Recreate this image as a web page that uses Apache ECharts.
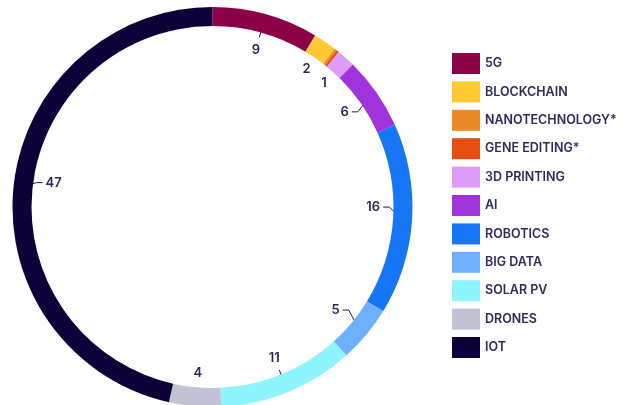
<!DOCTYPE html>
<html><head><meta charset="utf-8">
<script src="https://cdn.jsdelivr.net/npm/echarts@6/dist/echarts.min.js"></script>
<style>html,body{margin:0;padding:0;background:#fff}#c{width:632px;height:405px}</style>
</head><body><div id="c"></div>
<script>
const categories = ['5G','BLOCKCHAIN','NANOTECHNOLOGY*','GENE EDITING*','3D PRINTING','AI','ROBOTICS','BIG DATA','SOLAR PV','DRONES','IOT'];
const values = [8.6, 1.9, 0.2, 0.2, 1.5, 5.9, 15.5, 4.6, 11.0, 4.2, 46.6];
const labels = ['9','2','','','1','6','16','5','11','4','47'];
const colors = ['#8b0046','#ffc934','#e88a28','#e34f12','#de9cf8','#a034dc','#1776f4','#6eb0ff','#8ef4fd','#c2c2d6','#0d0038'];

const chart = echarts.init(document.getElementById('c'), null, {renderer:'canvas'});
const CX = 212.5, CY = 207, R_IN = 181, R_OUT = 200;
const total = values.reduce((a,b)=>a+b,0);
const midAngle = i => { let s=0; for (let k=0;k<i;k++) s+=values[k]; return (s+values[i]/2)/total*2*Math.PI; };
const pt = (a,r) => [CX + r*Math.sin(a), CY - r*Math.cos(a)];
const noLeader = new Set(['BLOCKCHAIN','3D PRINTING','DRONES']);
const nudge = {'AI':6,'ROBOTICS':-11,'BIG DATA':-10,'IOT':-5};

const option = {
  animation:false,
  legend:{orient:'vertical', left:452, top:53, padding:0, itemWidth:28, itemHeight:21, itemGap:7.4, icon:'rect', selectedMode:false,
    textStyle:{fontFamily:'Inter', fontSize:12.5, fontWeight:600, color:'#2e2b5c'}, data:categories},
  series:[{
    type:'pie', center:[CX,CY], radius:[R_IN,R_OUT], startAngle:90, clockwise:true, avoidLabelOverlap:false, silent:true,
    label:{show:true, position:'outside', formatter:p=>labels[p.dataIndex], fontFamily:'Inter', fontSize:13, fontWeight:600, color:'#2b2856'},
    labelLine:{show:true, length:10, length2:6, smooth:false, lineStyle:{color:'#1e1a4a', width:1}},
    data: categories.map((n,i)=>({name:n, value:values[i], itemStyle:{color:colors[i]},
      label:{show: labels[i]!==''}, labelLine:{show: labels[i]!=='' && !noLeader.has(n)}})),
    labelLayout: function(p){
      const i = p.dataIndex, name = categories[i], a = midAngle(i), s = Math.sin(a);
      if (noLeader.has(name)) { const l = pt(a,167); return {x:l[0], y:l[1], align:'center', verticalAlign:'middle'}; }
      if (Math.abs(s) < 0.6) {
        const p0 = pt(a,190), p1 = pt(a,176), l = pt(a,163);
        return {x:l[0], y:l[1], align:'center', verticalAlign:'middle', labelLinePoints:[p0,p1,p1]};
      }
      const dy = nudge[name]||0;
      const p0 = pt(a,190), p1 = pt(a,177); p1[1] += dy;
      const dir = s>0 ? -1 : 1;
      const p2 = [p1[0]+dir*6, p1[1]];
      return {x:p2[0]+dir*3, y:p2[1], align: s>0?'right':'left', verticalAlign:'middle', labelLinePoints:[p0,p1,p2]};
    }
  }]
};
chart.setOption(option);
</script></body></html>
